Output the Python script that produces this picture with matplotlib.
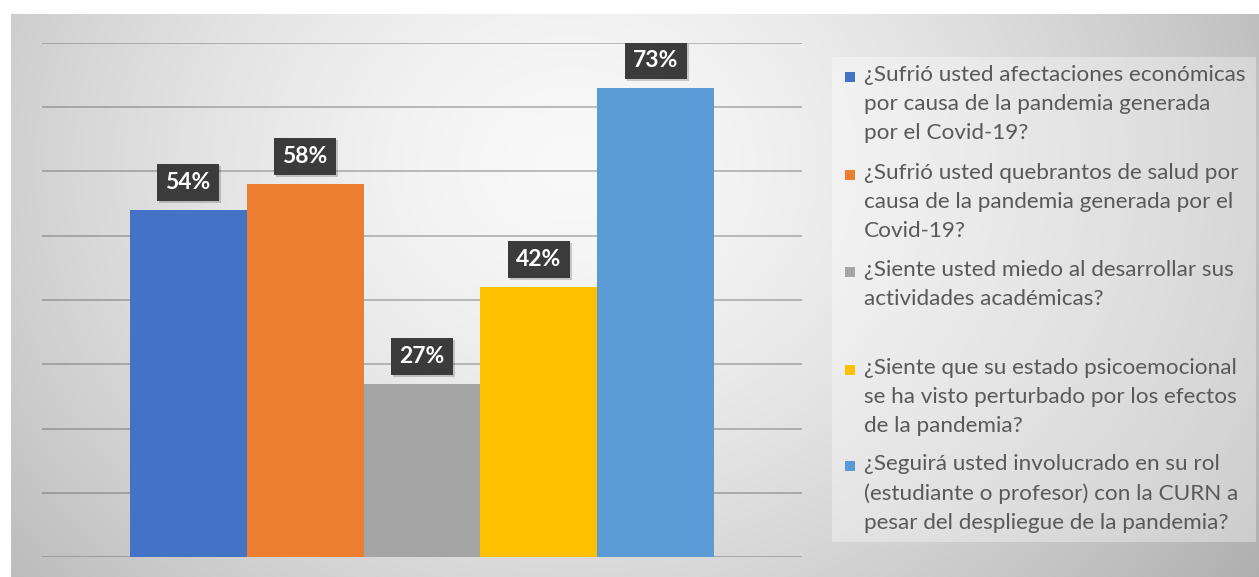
import numpy as np
import matplotlib
matplotlib.use("Agg")
import matplotlib.pyplot as plt
from matplotlib.patches import Rectangle

# ---- data ----
questions = [
    "¿Sufrió usted afectaciones económicas\npor causa de la pandemia generada\npor el Covid-19?",
    "¿Sufrió usted quebrantos de salud por\ncausa de la pandemia generada por el\nCovid-19?",
    "¿Siente usted miedo al desarrollar sus\nactividades académicas?",
    "¿Siente que su estado psicoemocional\nse ha visto perturbado por los efectos\nde la pandemia?",
    "¿Seguirá usted involucrado en su rol\n(estudiante o profesor) con la CURN a\npesar del despliegue de la pandemia?",
]
values = [0.54, 0.58, 0.27, 0.42, 0.73]
value_labels = ["54%", "58%", "27%", "42%", "73%"]
colors = ["#4472C4", "#ED7D31", "#A5A5A5", "#FFC000", "#5B9BD5"]

W, H = 1259, 577
fig = plt.figure(figsize=(W / 100, H / 100), dpi=100, facecolor="white")

# ---- gradient background of chart area ----
bx0, by0 = 11, 14
bw, bh = W - bx0, H - by0
xx, yy = np.meshgrid(np.arange(bw), np.arange(bh))
cx, cy = 560, 150
d = np.sqrt(((xx - cx) / 700.0) ** 2 + ((yy - cy) / 600.0) ** 2)
v = np.clip(0.975 - 0.22 * d ** 1.5, 0, 1)
img = np.dstack([v, v, v])
bg = fig.add_axes([bx0 / W, 0, bw / W, bh / H], zorder=0)
bg.imshow(img, aspect="auto", interpolation="bilinear")
bg.axis("off")

# overlay for legend
bg2 = fig.add_axes([0, 0, 1, 1], zorder=1)
bg2.set_xlim(0, W)
bg2.set_ylim(H, 0)
bg2.axis("off")
bg2.patch.set_alpha(0)
bg2.add_patch(Rectangle((832, 57), 424, 485, facecolor="white", alpha=0.35, edgecolor="none"))

# ---- main axes ----
left, right, top, base = 42, 802, 43, 557
ax = fig.add_axes([left / W, (H - base) / H, (right - left) / W, (base - top) / H], zorder=2)
ax.patch.set_alpha(0)
x = np.arange(len(values))
ax.set_xlim(-1.248, 4 + 1.248)
ax.set_ylim(0, 0.8)
ax.set_yticks(np.arange(0, 0.81, 0.1))
ax.yaxis.grid(True, color="#555555", alpha=0.4, linewidth=1.3)
ax.set_axisbelow(True)
ax.tick_params(left=False, bottom=False, labelleft=False, labelbottom=False)
for s in ax.spines.values():
    s.set_visible(False)

ax.bar(x, values, width=1.0, color=colors, zorder=3)

# data labels: dark boxes
ax_h_px = base - top
ax_w_px = right - left
ypp = 0.8 / ax_h_px
xpp = 6.496 / ax_w_px
bw_px, bh_px, gap_px = 62, 37, 9
for xi, val, lab in zip(x, values, value_labels):
    y0 = val + gap_px * ypp
    ax.add_patch(Rectangle((xi - bw_px / 2 * xpp + 2 * xpp, y0 - 2 * ypp), bw_px * xpp, bh_px * ypp,
                           facecolor="black", alpha=0.18, edgecolor="none", zorder=4))
    ax.add_patch(Rectangle((xi - bw_px / 2 * xpp, y0), bw_px * xpp, bh_px * ypp,
                           facecolor="#3b3b3b", edgecolor="none", zorder=5))
    ax.text(xi, y0 + bh_px / 2 * ypp, lab, ha="center", va="center", color="white",
            fontsize=16.5, fontweight="bold", family="Lato", zorder=6)

# ---- legend (manual) ----
first_line_y = [77, 175, 272, 370, 466]
for q, c, yc in zip(questions, colors, first_line_y):
    bg2.add_patch(Rectangle((845, yc - 5), 10, 10, facecolor=c, edgecolor="none", zorder=3))
    bg2.text(864, yc - 12, q, ha="left", va="top", color="#595959", fontsize=16.2,
             family="Lato", linespacing=1.57, zorder=3)

fig.savefig("out.png", dpi=100, facecolor="white")
